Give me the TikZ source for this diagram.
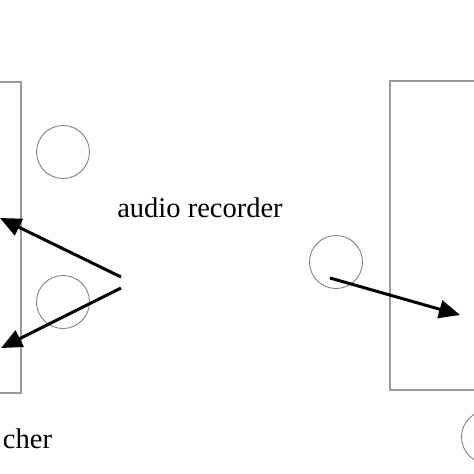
\documentclass[tikz,border=0pt]{standalone}
\usepackage{fontspec}
\setmainfont{Liberation Serif}
\usetikzlibrary{arrows.meta}
\definecolor{c999999}{RGB}{153,153,153}
\definecolor{c808080}{RGB}{128,128,128}

\begin{document}
\begin{tikzpicture}[y=1pt, x=1pt, yscale=-1, inner sep=0pt, outer sep=0pt,
  mic/.style={circle,draw=c808080,line width=0.9pt,minimum size=53pt},
  pointer/.style={draw=black,line width=3pt,-{Triangle[length=21pt,width=18pt]}},
  label/.style={font=\fontsize{28.5}{30}\selectfont}]
\useasboundingbox (0,0) rectangle (474,474);
  % boxes
  \path[draw=c999999,line width=1.3pt] (-60,82) rectangle (21,393);
  \path[draw=c999999,line width=1.3pt] (390,81) rectangle (560,390);
  % recorders
  \node[mic] (mic1) at (63,152) {};
  \node[mic] (mic2) at (63,302) {};
  \node[mic] (mic3) at (336,262) {};
  \node[mic] (mic4) at (488,437) {};
  % labels
  \node[label,anchor=base] (text-audio) at (200,217) {audio recorder};
  \node[label,anchor=base east] (text-cher) at (52,448) {cher};
  % arrows
  \coordinate (a1from) at (121,277);
  \coordinate (a1to) at (0,218);
  \coordinate (a2from) at (121,288);
  \coordinate (a2to) at (1,348);
  \coordinate (a3to) at (460,315);
  \path[pointer] (a1from) -- (a1to);
  \path[pointer] (a2from) -- (a2to);
  \path[pointer] ([xshift=-6pt,yshift=16pt]mic3.center) -- (a3to);
\end{tikzpicture}
\end{document}
